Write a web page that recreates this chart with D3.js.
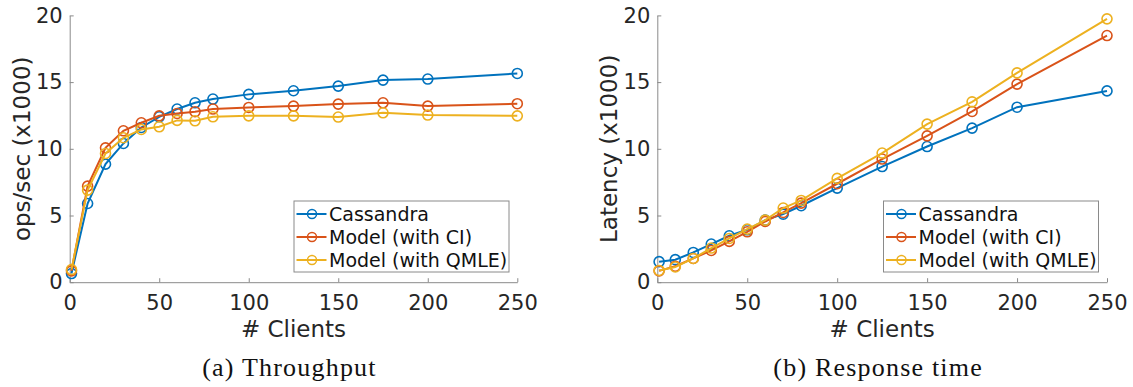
<!DOCTYPE html>
<html>
<head>
<meta charset="utf-8">
<script src="https://cdn.jsdelivr.net/npm/d3@7"></script>
<style>
  body { margin: 0; background: #fff; }
  svg { display: block; }
  .tick text { font-family: "DejaVu Sans", sans-serif; fill: #262626; }
</style>
</head>
<body>
<svg id="chart" width="1133" height="387"></svg>
<script>
// number of clients (x values, same for both panels)
var clients = [1, 10, 20, 30, 40, 50, 60, 70, 80, 100, 125, 150, 175, 200, 250];
var seriesNames = ["Cassandra", "Model (with CI)", "Model (with QMLE)"];
var xTicks = [0, 50, 100, 150, 200, 250];
var yTicks = [0, 5, 10, 15, 20];

// (a) throughput, ops/sec x1000
var tputCassandra = [0.65, 5.9, 8.85, 10.4, 11.6, 12.4, 12.98, 13.45, 13.73, 14.08, 14.35, 14.7, 15.15, 15.23, 15.65];
var tputModelCI   = [0.85, 7.2, 10.07, 11.35, 11.95, 12.47, 12.65, 12.78, 12.98, 13.1, 13.2, 13.35, 13.45, 13.2, 13.38];
var tputModelQMLE = [0.95, 6.9, 9.65, 10.83, 11.45, 11.65, 12.13, 12.1, 12.4, 12.47, 12.47, 12.38, 12.7, 12.53, 12.47];

// (b) latency x1000
var latCassandra = [1.54, 1.69, 2.23, 2.86, 3.48, 3.93, 4.65, 5.1, 5.73, 7.05, 8.67, 10.17, 11.55, 13.12, 14.34];
var latModelCI   = [0.85, 1.2, 1.78, 2.38, 3.06, 3.78, 4.55, 5.23, 5.93, 7.38, 9.23, 10.97, 12.8, 14.85, 18.49];
var latModelQMLE = [0.88, 1.14, 1.78, 2.56, 3.28, 3.98, 4.65, 5.56, 6.13, 7.78, 9.68, 11.85, 13.52, 15.69, 19.74];

var colors = ["#0072BD", "#D95319", "#EDB120"];

var panels = [
  {left: 69.7, right: 517.3, ylabel: "ops/sec (x1000)", ylabelX: 22, caption: "(a) Throughput",
   series: [tputCassandra, tputModelCI, tputModelQMLE], legendX: 294},
  {left: 657.3, right: 1107, ylabel: "Latency (x1000)", ylabelX: 609, caption: "(b) Response time",
   series: [latCassandra, latModelCI, latModelQMLE], legendX: 883.5}
];

var plotTop = 15.4, plotBottom = 282.2;
var svg = d3.select("#chart");

panels.forEach(function(p) {
  var x = d3.scaleLinear().domain([0, 250]).range([p.left, p.right]);
  var y = d3.scaleLinear().domain([0, 20]).range([plotBottom, plotTop]);

  var g = svg.append("g");

  var xAxis = d3.axisBottom(x).tickValues(xTicks).tickSizeInner(-4).tickSizeOuter(0).tickPadding(13);
  var yAxis = d3.axisLeft(y).tickValues(yTicks).tickSizeInner(-4).tickSizeOuter(0).tickPadding(7);

  g.append("g")
    .attr("transform", "translate(0," + plotBottom + ")")
    .call(xAxis)
    .call(function(a) {
      a.selectAll(".tick text").style("font-size", "21px");
      a.selectAll("path, line").attr("stroke", "#8a8a8a");
    });

  g.append("g")
    .attr("transform", "translate(" + p.left + ",0)")
    .call(yAxis)
    .call(function(a) {
      a.selectAll(".tick text").style("font-size", "21px");
      a.selectAll("path, line").attr("stroke", "#8a8a8a");
    });

  var line = d3.line()
    .x(function(d, i) { return x(clients[i]); })
    .y(function(d) { return y(d); });

  p.series.forEach(function(s, k) {
    g.append("path")
      .datum(s)
      .attr("fill", "none")
      .attr("stroke", colors[k])
      .attr("stroke-width", 2)
      .attr("d", line);

    g.selectAll(".pt" + k)
      .data(s)
      .enter().append("circle")
      .attr("class", "pt" + k)
      .attr("cx", function(d, i) { return x(clients[i]); })
      .attr("cy", function(d) { return y(d); })
      .attr("r", 5)
      .attr("fill", "none")
      .attr("stroke", colors[k])
      .attr("stroke-width", 1.6);
  });

  // axis labels
  g.append("text")
    .attr("x", (p.left + p.right) / 2)
    .attr("y", 337)
    .attr("text-anchor", "middle")
    .style("font-family", "DejaVu Sans, sans-serif")
    .style("font-size", "23px")
    .style("fill", "#262626")
    .text("# Clients");

  g.append("text")
    .attr("transform", "translate(" + p.ylabelX + "," + ((plotTop + plotBottom) / 2) + ") rotate(-90)")
    .attr("dy", "0.35em")
    .attr("text-anchor", "middle")
    .style("font-family", "DejaVu Sans, sans-serif")
    .style("font-size", "23px")
    .style("fill", "#262626")
    .text(p.ylabel);

  g.append("text")
    .attr("x", (p.left + p.right) / 2 - 4)
    .attr("y", 376)
    .attr("text-anchor", "middle")
    .style("font-family", "Liberation Serif, serif")
    .style("font-size", "26px")
    .style("letter-spacing", "1.2px")
    .style("fill", "#111")
    .text(p.caption);

  // legend
  var lg = g.append("g").attr("transform", "translate(" + p.legendX + ",201)");
  lg.append("rect")
    .attr("width", 215)
    .attr("height", 71)
    .attr("fill", "#fff")
    .attr("stroke", "#8a8a8a")
    .attr("stroke-width", 1);

  var rows = lg.selectAll(".row")
    .data(seriesNames)
    .enter().append("g")
    .attr("class", "row")
    .attr("transform", function(d, i) { return "translate(0," + (13 + i * 23) + ")"; });

  rows.append("line")
    .attr("x1", 2.5).attr("x2", 32.5)
    .attr("stroke", function(d, i) { return colors[i]; })
    .attr("stroke-width", 2);
  rows.append("circle")
    .attr("cx", 18).attr("r", 4.5)
    .attr("fill", "none")
    .attr("stroke", function(d, i) { return colors[i]; })
    .attr("stroke-width", 1.5);
  rows.append("text")
    .attr("x", 35)
    .attr("dy", "0.35em")
    .style("font-family", "DejaVu Sans, sans-serif")
    .style("font-size", "19px")
    .style("fill", "#111")
    .text(function(d) { return d; });
});
</script>
</body>
</html>
